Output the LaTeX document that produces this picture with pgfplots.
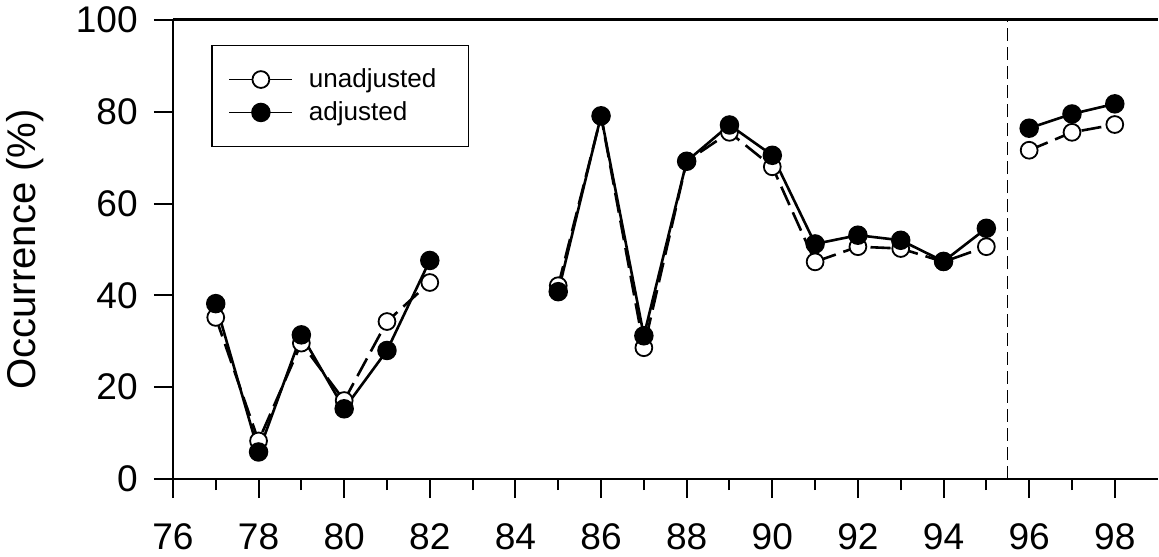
\documentclass[border=0pt]{standalone}
\usepackage{fontspec}
\setmainfont{Liberation Sans}
\usepackage{pgfplots}
\usepackage{pgfplotstable}
\pgfplotsset{compat=1.18}

% Occurrence by year; nan rows break the line between survey periods
\pgfplotstableread{
year unadj adj
77 35.2 38.2
78 8.3 5.9
79 29.6 31.4
80 17.1 15.3
81 34.3 28.0
82 42.8 47.6
83 nan nan
85 42.1 40.8
86 79.0 79.1
87 28.6 31.2
88 69.2 69.2
89 75.5 77.1
90 68.0 70.5
91 47.3 51.2
92 50.6 53.1
93 50.2 52.0
94 47.3 47.4
95 50.6 54.6
95.5 nan nan
96 71.6 76.4
97 75.5 79.5
98 77.2 81.7
}\occtable

\begin{document}
\begin{tikzpicture}
\begin{axis}[
  scale only axis,
  width=491pt, height=229pt,
  xmin=76, xmax=99, ymin=0, ymax=100,
  axis y line*=left,
  axis x line=box,
  xtick pos=bottom,
  axis line style={line width=1.4pt},
  xtick={76,78,...,98},
  minor xtick={77,79,...,97},
  ytick={0,20,...,100},
  tick align=outside,
  major tick length=9.5pt,
  minor tick length=5.5pt,
  every tick/.style={black, line width=1pt},
  tick label style={font=\fontsize{18.5}{21}\selectfont},
  /pgf/number format/assume math mode=true,
  xticklabel style={yshift=-9pt},
  yticklabel style={xshift=-4.5pt},
  ylabel={Occurrence (\%)},
  ylabel style={font=\fontsize{20}{24}\selectfont, yshift=9pt},
  unbounded coords=jump,
  clip=false,
  legend style={at={(axis cs:76.9,94.6)}, anchor=north west,
    draw=black, line width=0.9pt,
    font=\fontsize{13}{16}\selectfont,
    inner xsep=8pt, inner ysep=9.5pt,
    row sep=1.5pt, cells={anchor=west}},
  legend image code/.code={%
    \draw[#1, solid, line width=0.9pt] (0pt,0pt) -- (31.5pt,0pt);
    \draw[#1, solid, mark repeat=1] plot coordinates {(15.75pt,0pt)};
    \path (37pt,0pt);},
]
% boundary between the two series of surveys
\draw[dashed, dash pattern=on 6.5pt off 3pt, line width=0.7pt]
  (axis cs:95.5,0) -- (axis cs:95.5,100);

\addplot[black, line width=1.3pt, dash pattern=on 10pt off 4pt,
  mark=*, mark size=4.2pt,
  mark options={solid, fill=white, draw=black, line width=0.9pt}]
  table[x=year, y=unadj] {\occtable};
\addlegendentry{unadjusted\hspace*{6pt}}

\addplot[black, line width=1.3pt, solid,
  mark=*, mark size=4.2pt,
  mark options={solid, fill=black, draw=black}]
  table[x=year, y=adj] {\occtable};
\addlegendentry{adjusted}
\end{axis}
\end{tikzpicture}
\end{document}
